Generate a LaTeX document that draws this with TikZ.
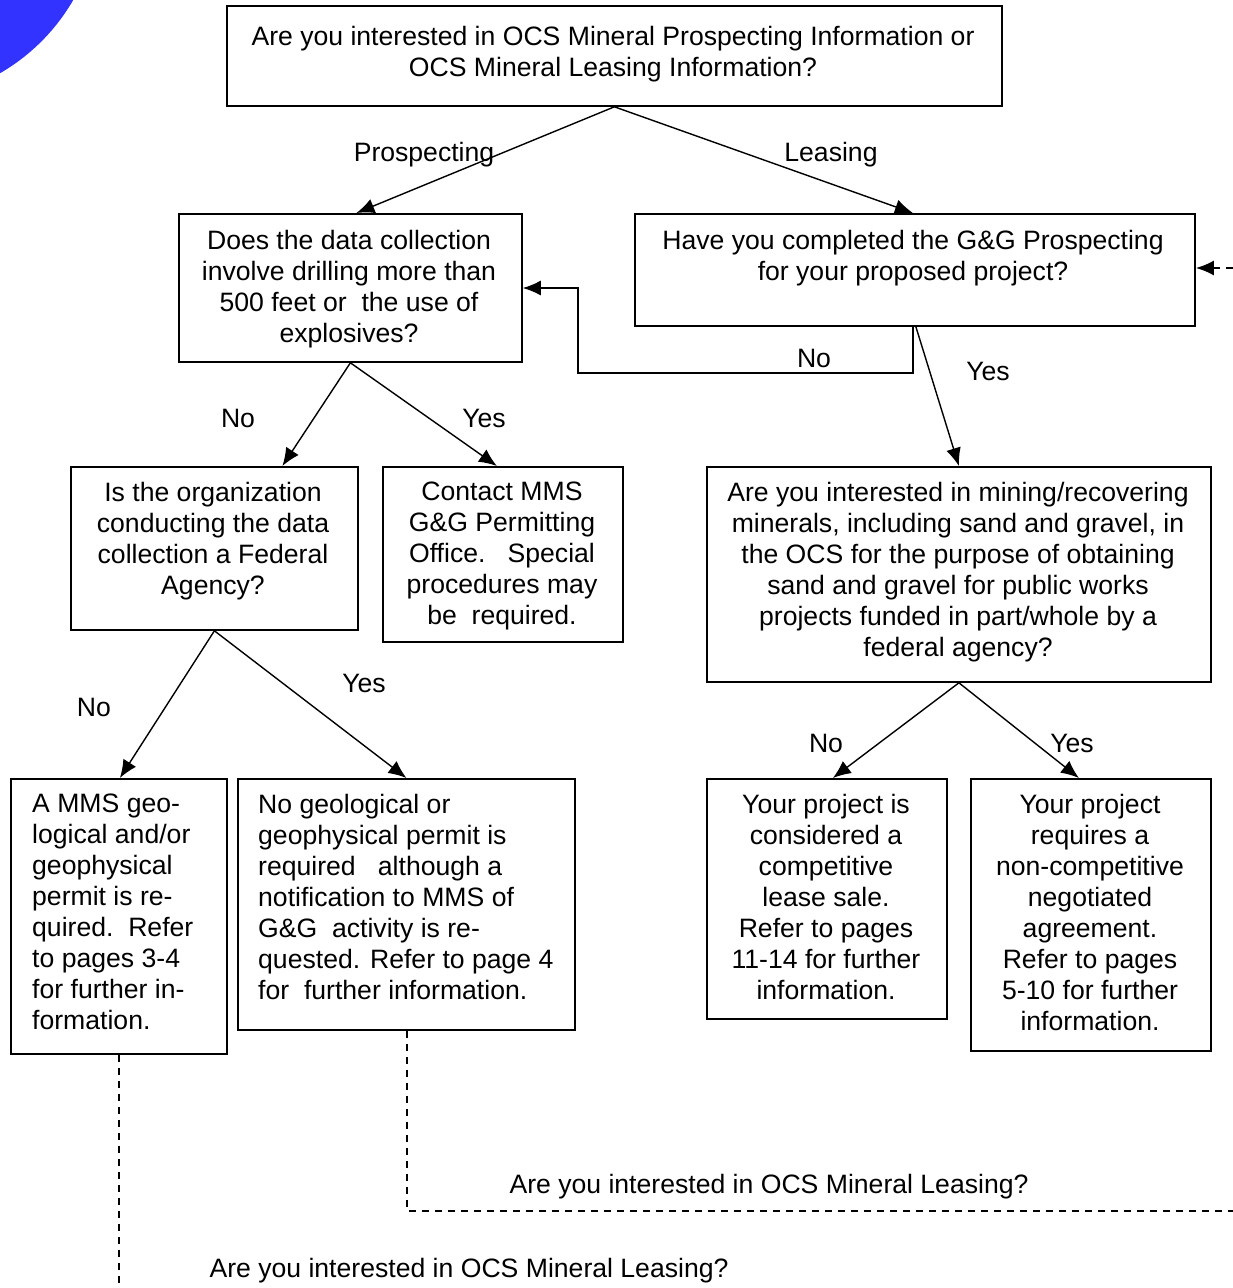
\documentclass[tikz,border=0pt]{standalone}
\usepackage{fontspec}
\setmainfont{Liberation Sans}
\usetikzlibrary{arrows.meta,calc}
\definecolor{bluedisc}{RGB}{51,51,255}
\newcommand{\fsz}{\fontsize{26.6}{31}\selectfont}
\begin{document}
\begin{tikzpicture}[x=1pt,y=-1pt,
  qbox/.style={draw, line width=1.8pt, rectangle, anchor=north west, inner sep=0pt},
  ctext/.style={font=\fsz, align=center, inner sep=0pt, anchor=north},
  ltext/.style={font=\fsz, align=left, inner sep=0pt, anchor=north west},
  lbl/.style={font=\fsz, inner sep=0pt},
  conn/.style={line width=1.4pt, -{Latex[length=18pt,width=15pt]}},
  dashline/.style={line width=2pt, dash pattern=on 7pt off 6pt}]
\fill[white] (0,0) rectangle (1233,1288);
\useasboundingbox (0,0) rectangle (1233,1288);
\begin{scope}
\clip (0,0) rectangle (1233,1288);
\fill[bluedisc] (-100,-100) circle [radius=200pt];
\end{scope}

% boxes
\node[qbox, minimum width=775pt, minimum height=100pt] (q1) at (226,5) {};
\node[qbox, minimum width=343pt, minimum height=148pt] (q2) at (178,213) {};
\node[qbox, minimum width=560pt, minimum height=112pt] (q3) at (634,213) {};
\node[qbox, minimum width=287pt, minimum height=163pt] (q4) at (70,466) {};
\node[qbox, minimum width=240pt, minimum height=175pt] (q5) at (382,466) {};
\node[qbox, minimum width=504pt, minimum height=215pt] (q6) at (706,466) {};
\node[qbox, minimum width=216pt, minimum height=275pt] (q7) at (10,778) {};
\node[qbox, minimum width=337pt, minimum height=251pt] (q8) at (237,778) {};
\node[qbox, minimum width=240pt, minimum height=240pt] (q9) at (706,778) {};
\node[qbox, minimum width=240pt, minimum height=272pt] (q10) at (970,778) {};

% texts
\node[ctext] (t1) at (613,26) {Are you interested in OCS Mineral Prospecting Information or\\OCS Mineral Leasing Information?};
\node[ctext] (t2) at (349,230) {Does the data collection\\involve drilling more than\\500 feet or\ \ the use of\\explosives?};
\node[ctext] (t3) at (913,230) {Have you completed the G\&G Prospecting\\for your proposed project?};
\node[ctext] (t4) at (213,482) {Is the organization\\conducting the data\\collection a Federal\\Agency?};
\node[ctext] (t5) at (502,482) {Contact MMS\\G\&G Permitting\\Office.\ \ \ Special\\procedures may\\be\ \ required.};
\node[ctext] (t6) at (958,482) {Are you interested in mining/recovering\\minerals, including sand and gravel, in\\the OCS for the purpose of obtaining\\sand and gravel for public works\\projects funded in part/whole by a\\federal agency?};
\node[ltext] (t7) at (32,794) {A MMS geo-\\logical and/or\\geophysical\\permit is re-\\quired.\ \ Refer\\to pages 3-4\\for further in-\\formation.};
\node[ltext] (t8) at (258,794) {No geological or\\geophysical permit is\\required\ \ \ although a\\notification to MMS of\\G\&G\ \ activity is re-\\quested. Refer to page 4\\for\ \ further information.};
\node[ctext] (t9) at (826,794) {Your project is\\considered a\\competitive\\lease sale.\\Refer to pages\\11-14 for further\\information.};
\node[ctext] (t10) at (1090,794) {Your project\\requires a\\non-competitive\\negotiated\\agreement.\\Refer to pages\\5-10 for further\\information.};

% connectors
\draw[conn] (q1.south) -- ([xshift=6pt]q2.north);
\draw[conn] (q1.south) -- ([xshift=-2pt]q3.north);
\coordinate (nA) at (913,373);
\coordinate (nB) at (578,373);
\coordinate (nC) at (578,288);
\draw[conn] (q3.south -| nA) -- (nA) -- (nB) -- (nC) -- (nC -| q2.east);
\draw[conn] ([xshift=1pt]q3.south) -- (q6.north);
\draw[conn] (q2.south) -- ([xshift=68pt]q4.north);
\draw[conn] (q2.south) -- ([xshift=-6pt]q5.north);
\draw[conn] (q4.south) -- ([xshift=1pt]q7.north);
\draw[conn] (q4.south) -- (q8.north);
\draw[conn] (q6.south) -- ([xshift=6pt]q9.north);
\draw[conn] (q6.south) -- ([xshift=-12pt]q10.north);

% labels
\node[lbl] (l1) at (424,155) {Prospecting};
\node[lbl] (l2) at (831,155) {Leasing};
\node[lbl] (l3) at (814,358) {No};
\node[lbl] (l4) at (988,371) {Yes};
\node[lbl] (l5) at (238,418) {No};
\node[lbl] (l6) at (484,418) {Yes};
\node[lbl] (l7) at (94,707) {No};
\node[lbl] (l8) at (364,683) {Yes};
\node[lbl] (l9) at (826,743) {No};
\node[lbl] (l10) at (1072,743) {Yes};

% dashed connectors
\coordinate (bl) at (118,1288);
\draw[dashline] (q7.south) -- (q7.south |- bl);
\coordinate (d1) at (407,1211);
\coordinate (d2) at (1233,1211);
\draw[dashline] (q8.south -| d1) -- (d1) -- (d2);
\coordinate (d3) at (1233,268);
\draw[dashline, -{Latex[length=18pt,width=15pt]}] (d3) -- (d3 -| q3.east);

\node[lbl] (m1) at (769,1187) {Are you interested in OCS Mineral Leasing?};
\node[lbl] (m2) at (469,1271) {Are you interested in OCS Mineral Leasing?};
\end{tikzpicture}
\end{document}
